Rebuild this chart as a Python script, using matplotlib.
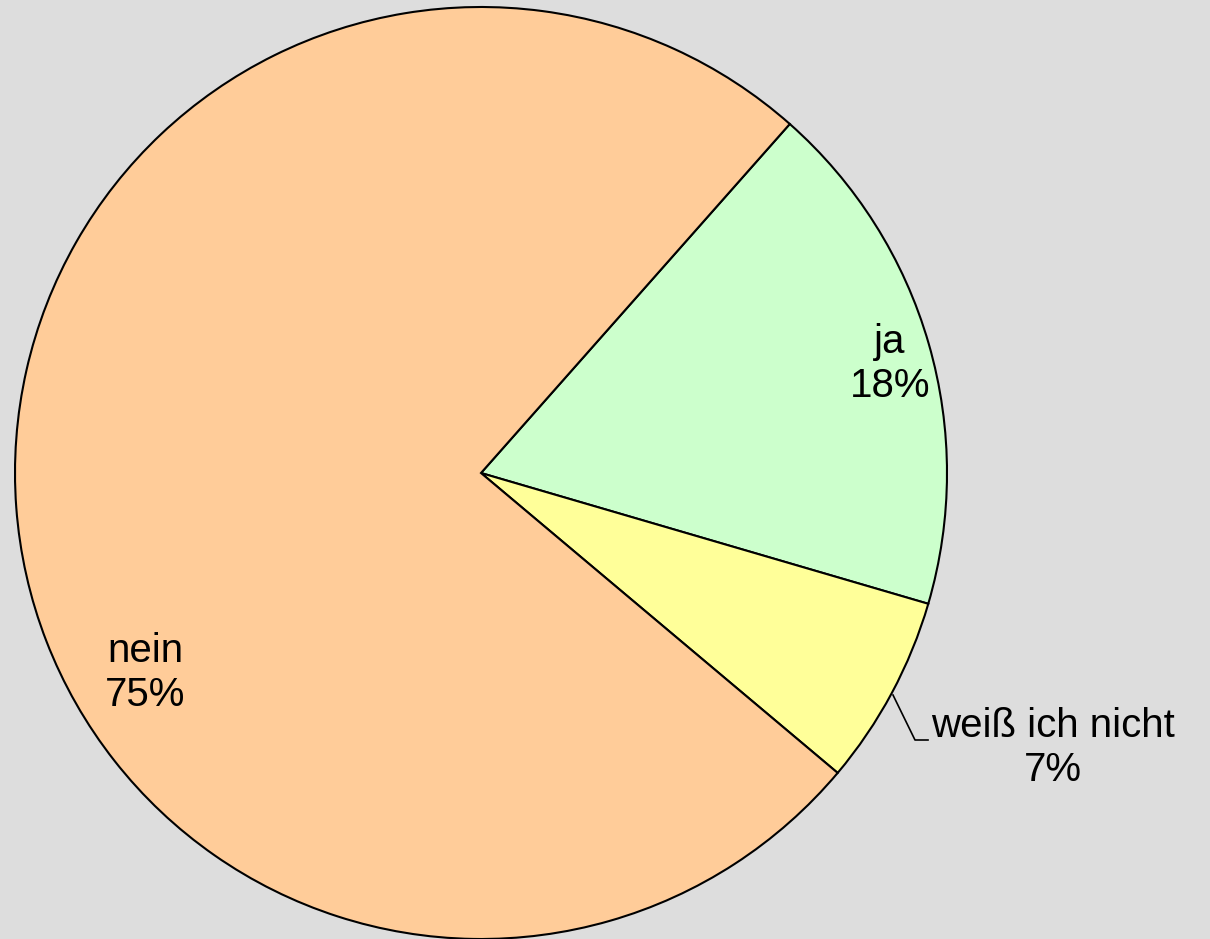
import numpy as np
import matplotlib
matplotlib.use('Agg')
import matplotlib.pyplot as plt

categories = ['ja', 'weiß ich nicht', 'nein']
values = [18.0, 6.6, 75.4]
shown_pct = ['18%', '7%', '75%']
colors = ['#CCFFCC', '#FFFF99', '#FFCC99']

plt.rcParams['font.family'] = ['Liberation Sans', 'DejaVu Sans']

W, H = 1210, 939
cx, cy, R = 481, 473, 466  # pie centre / radius in pixels

fig = plt.figure(figsize=(W / 100, H / 100), dpi=100, facecolor='#DDDDDD')
ax = fig.add_axes([0, 0, 1, 1])
ax.set_facecolor('#DDDDDD')
ax.axis('off')

wedges, _ = ax.pie(values, colors=colors, startangle=48.5, counterclock=False,
                   radius=1.0, center=(0, 0),
                   wedgeprops=dict(edgecolor='black', linewidth=1.5))
ax.set_xlim(-cx / R, (W - cx) / R)
ax.set_ylim(-(H - cy) / R, cy / R)
ax.set_aspect('auto')

def px(x, y):
    return ((x - cx) / R, (cy - y) / R)

fs = 29
ls = 1.2
# ja
ax.text(*px(890, 364), categories[0] + '\n' + shown_pct[0], ha='center', va='center',
        fontsize=fs, linespacing=ls)
# nein
ax.text(*px(145, 673), categories[2] + '\n' + shown_pct[2], ha='center', va='center',
        fontsize=fs, linespacing=ls)
# weiß ich nicht with leader line
lx, ly = zip(px(893, 695), px(915, 740), px(928, 740))
ax.plot(lx, ly, color='black', linewidth=1.2)
ax.text(*px(931, 748), categories[1] + '\n' + shown_pct[1], ha='left', va='center',
        multialignment='center', fontsize=fs, linespacing=ls)

fig.savefig('out.png', dpi=100, facecolor=fig.get_facecolor())
